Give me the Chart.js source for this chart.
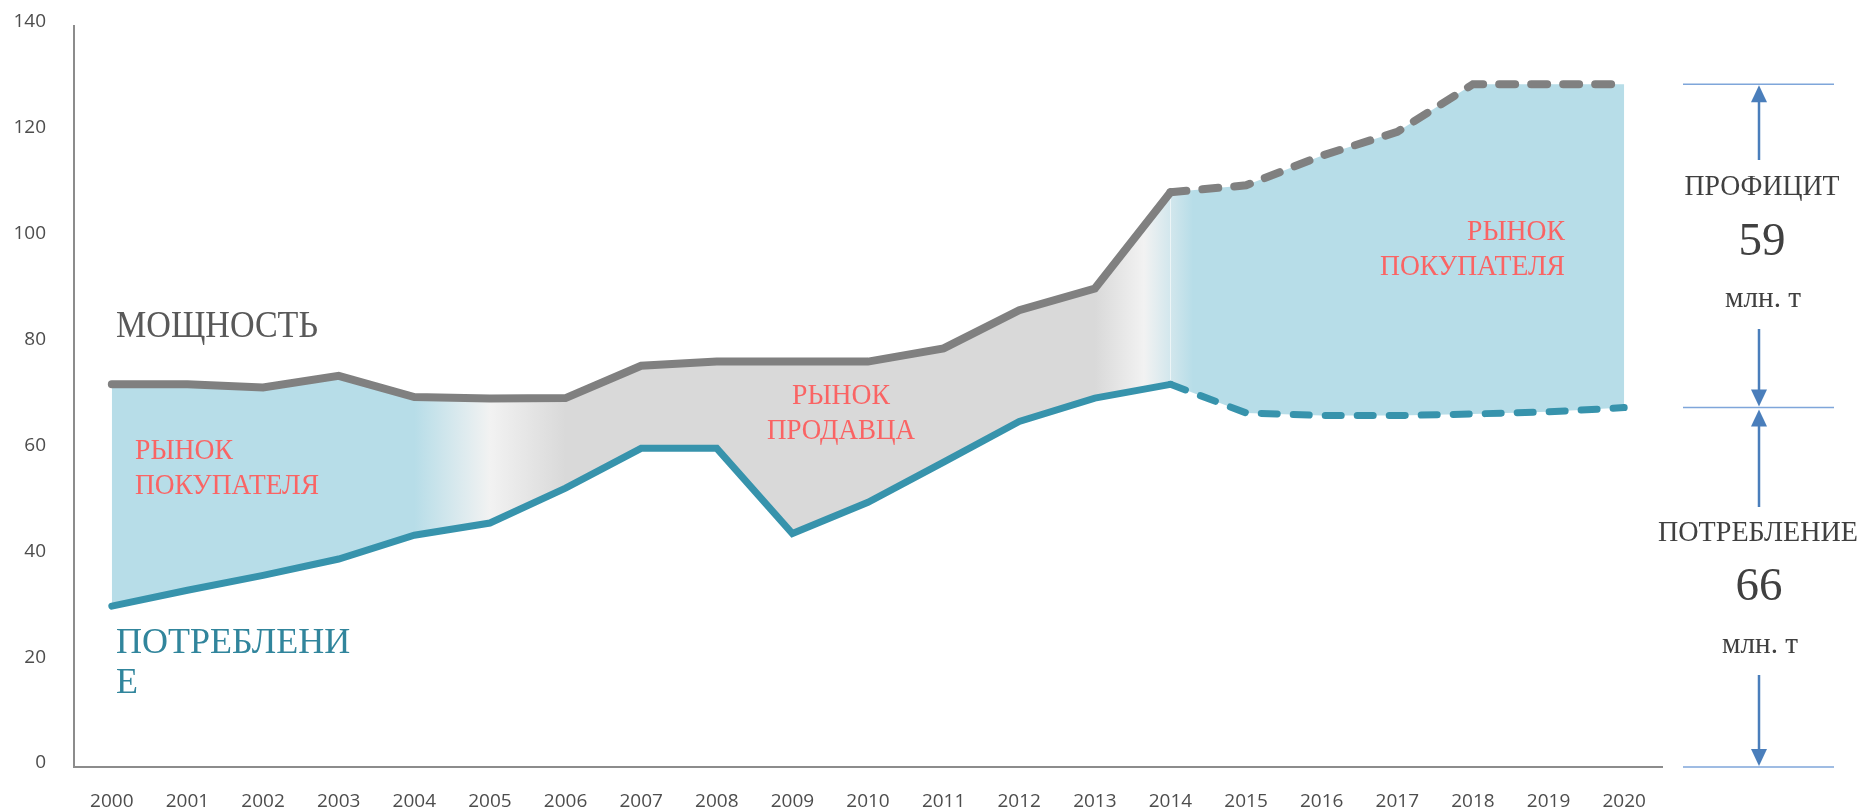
<!DOCTYPE html>
<html lang="ru">
<head>
<meta charset="utf-8">
<title>Мощность и потребление, 2000–2020</title>
<script src="https://cdn.jsdelivr.net/npm/chart.js@4.4.1/dist/chart.umd.min.js"></script>
<style>
  html, body { margin: 0; padding: 0; background: #fff; }
  #wrap { width: 1862px; height: 812px; }
</style>
</head>
<body>
<div id="wrap"><canvas id="chart" width="1862" height="812"></canvas></div>
<script>
// ── Данные ────────────────────────────────────────────
const years = ['2000', '2001', '2002', '2003', '2004', '2005', '2006', '2007', '2008', '2009', '2010',
               '2011', '2012', '2013', '2014', '2015', '2016', '2017', '2018', '2019', '2020'];
const capacity    = [72.3, 72.3, 71.7, 73.9, 69.9, 69.6, 69.7, 75.8, 76.6, 76.6, 76.6,
                     79.1, 86.3, 90.4, 108.6, 109.9, 115.5, 120.0, 129.0, 129.0, 129.0];
const consumption = [30.4, 33.4, 36.2, 39.3, 43.8, 46.1, 52.7, 60.2, 60.2, 44.1, 50.0,
                     57.6, 65.3, 69.7, 72.3, 66.9, 66.4, 66.4, 66.7, 67.1, 67.9];
const yTicks = [0, 20, 40, 60, 80, 100, 120, 140];
const forecastFrom = 14;        // с 2014 года — прогноз (пунктир)
const surplus = '59';
const demand = '66';

// ── Цвета ─────────────────────────────────────────────
const BLUE  = '#b7dde8';
const GREY  = '#d9d9d9';
const PALE  = '#f2f2f2';
const CAP   = '#808080';
const CONS  = '#3793ac';
const CORAL = '#fa6464';
const ARROW = '#4a7ebb';
const SERIF = '"Liberation Serif", "DejaVu Serif", serif';

// горизонтальный градиент: рынок покупателя / продавца
function bandFill(context) {
    const chart = context.chart;
    const area = chart.chartArea;
    if (!area || !chart.scales.x) return BLUE;
    const x = chart.scales.x;
    const w = area.right - area.left;
    const at = i => Math.min(1, Math.max(0, (x.getPixelForValue(i) - area.left) / w));
    const g = chart.ctx.createLinearGradient(area.left, 0, area.right, 0);
    g.addColorStop(0, BLUE);
    g.addColorStop(at(4), BLUE);
    g.addColorStop(at(5), PALE);
    g.addColorStop(at(6), GREY);
    g.addColorStop(at(13), GREY);
    g.addColorStop(at(13.65), PALE);
    g.addColorStop(at(14.3), BLUE);
    g.addColorStop(1, BLUE);
    return g;
}

const dashAfter = ctx => ctx.p0DataIndex >= forecastFrom ? [16, 16] : undefined;

// ── Подписи и стрелки ─────────────────────────────────
function text(ctx, str, x, y, size, color, align, maxW) {
    ctx.font = size + 'px ' + SERIF;
    ctx.fillStyle = color;
    ctx.textAlign = align;
    ctx.textBaseline = 'alphabetic';
    ctx.fillText(str, x, y, maxW);
}

function arrow(ctx, x, from, to) {
    const dir = Math.sign(to - from);
    ctx.strokeStyle = ARROW;
    ctx.fillStyle = ARROW;
    ctx.lineWidth = 2.5;
    ctx.beginPath();
    ctx.moveTo(x, from);
    ctx.lineTo(x, to - dir * 14);
    ctx.stroke();
    ctx.beginPath();
    ctx.moveTo(x, to);
    ctx.lineTo(x - 8, to - dir * 17);
    ctx.lineTo(x + 8, to - dir * 17);
    ctx.closePath();
    ctx.fill();
}

const annotations = {
    id: 'annotations',
    afterDraw(chart) {
        const ctx = chart.ctx;
        const y = chart.scales.y;
        ctx.save();

        text(ctx, 'МОЩНОСТЬ', 116, 337, 38, '#595959', 'left', 202);
        text(ctx, 'ПОТРЕБЛЕНИ', 116, 653, 36, '#31859c', 'left', 238);
        text(ctx, 'Е', 116, 693, 36, '#31859c', 'left');

        text(ctx, 'РЫНОК', 135, 459, 29, CORAL, 'left', 98);
        text(ctx, 'ПОКУПАТЕЛЯ', 135, 494, 29, CORAL, 'left', 184);
        text(ctx, 'РЫНОК', 841, 404, 29, CORAL, 'center', 98);
        text(ctx, 'ПРОДАВЦА', 841, 439, 29, CORAL, 'center', 148);
        text(ctx, 'РЫНОК', 1565, 240, 29, CORAL, 'right', 98);
        text(ctx, 'ПОКУПАТЕЛЯ', 1565, 275, 29, CORAL, 'right', 185);

        // правая шкала: профицит и потребление 2020
        const top = y.getPixelForValue(capacity[capacity.length - 1]);
        const mid = y.getPixelForValue(consumption[consumption.length - 1]);
        const bottom = y.getPixelForValue(0);
        const cx = 1759;
        ctx.strokeStyle = '#7fa6da';
        ctx.lineWidth = 1.5;
        [top, mid, bottom].forEach(v => {
            ctx.beginPath();
            ctx.moveTo(1683, v);
            ctx.lineTo(1834, v);
            ctx.stroke();
        });
        arrow(ctx, cx, 160, top + 1);
        arrow(ctx, cx, 329, mid - 1);
        arrow(ctx, cx, 507, mid + 2);
        arrow(ctx, cx, 675, bottom - 1);

        text(ctx, 'ПРОФИЦИТ', 1762, 195, 30, '#404040', 'center', 155);
        text(ctx, surplus, 1762, 255, 47, '#404040', 'center');
        text(ctx, 'млн. т', 1763, 307, 30, '#404040', 'center', 76);
        text(ctx, 'ПОТРЕБЛЕНИЕ', 1758, 541, 30, '#404040', 'center', 200);
        text(ctx, demand, 1759, 600, 47, '#404040', 'center');
        text(ctx, 'млн. т', 1760, 653, 30, '#404040', 'center', 76);

        ctx.restore();
    }
};

// ── График ────────────────────────────────────────────
const tickFont = { family: '"Open Sans", "Noto Sans", sans-serif', size: 19 };

const chart = new Chart(document.getElementById('chart'), {
    type: 'line',
    data: {
        labels: years,
        datasets: [{
            label: 'Мощность',
            data: capacity,
            borderColor: CAP,
            borderWidth: 8,
            borderCapStyle: 'round',
            pointRadius: 0,
            fill: false,
            segment: { borderDash: dashAfter },
        }, {
            label: 'Потребление',
            data: consumption,
            borderColor: CONS,
            borderWidth: 7,
            borderCapStyle: 'round',
            pointRadius: 0,
            fill: '-1',
            backgroundColor: bandFill,
            segment: { borderDash: dashAfter },
        }],
    },
    options: {
        responsive: false,
        animation: false,
        layout: { padding: { top: 26, right: 200, left: 0, bottom: 0 } },
        plugins: {
            legend: { display: false },
            tooltip: { enabled: false },
            filler: { drawTime: 'beforeDatasetsDraw' },
        },
        scales: {
            x: {
                offset: true,
                grid: { display: false, drawTicks: false },
                border: { color: '#8c8c8c', width: 2 },
                ticks: { color: '#4d4d4d', font: tickFont, padding: 23, maxRotation: 0, autoSkip: false },
                afterFit: s => { s.height = 45; },
            },
            y: {
                min: yTicks[0],
                max: yTicks[yTicks.length - 1],
                grid: { display: false, drawTicks: false },
                border: { color: '#8c8c8c', width: 2 },
                ticks: { stepSize: yTicks[1] - yTicks[0], color: '#4d4d4d', font: tickFont, padding: 28, labelOffset: -4 },
                afterFit: s => { s.width = 74; s.paddingTop = 0; s.paddingBottom = 0; },
            },
        },
    },
    plugins: [annotations],
});
chart.update('none');
</script>
</body>
</html>
